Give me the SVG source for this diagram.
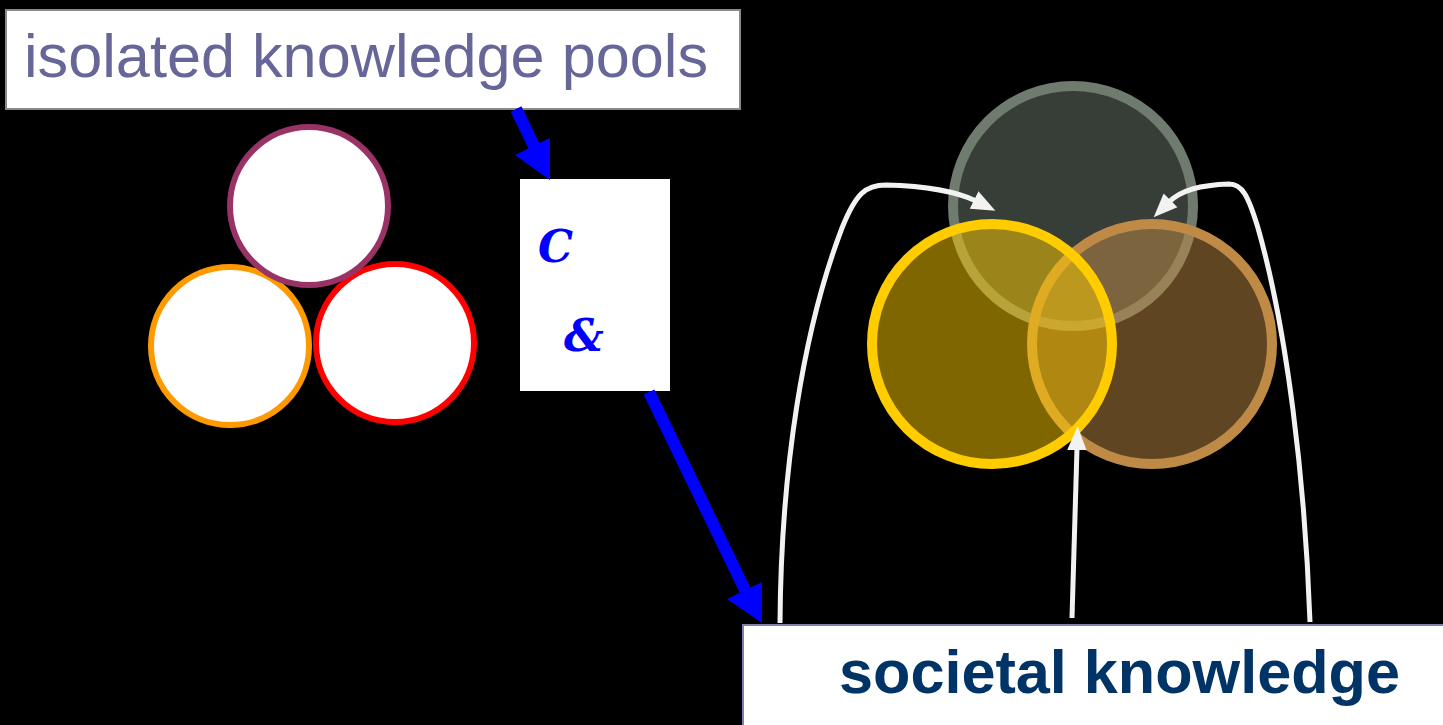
<svg xmlns="http://www.w3.org/2000/svg" width="1443" height="725" viewBox="0 0 1443 725">
<defs>
<style>
.box{fill:#ffffff}
.pool{fill:#ffffff;stroke-width:6}
.venn{stroke-width:10}
.wline{fill:none;stroke:#f2f2f2;stroke-width:5}
.blue{fill:#0000ff}
.ital{font-family:"DejaVu Serif","Liberation Serif",serif;font-style:italic;font-weight:bold;font-size:44px;fill:#0000ff}
</style>
<marker id="wh" markerUnits="userSpaceOnUse" markerWidth="26" markerHeight="20" refX="2" refY="9" orient="auto" viewBox="0 0 24 18">
<path d="M0,0 L22,9 L0,18 z" fill="#f2f2f2"/>
</marker>
</defs>
<rect x="0" y="0" width="1443" height="725" fill="#000000"/>

<g id="node-isolated">
<rect class="box" x="6" y="10" width="734" height="99" stroke="#8a8a8a" stroke-width="2"/>
<text x="24" y="77" font-family="Liberation Sans, Arial, sans-serif" font-size="62" fill="#666699" textLength="684" lengthAdjust="spacingAndGlyphs">isolated knowledge pools</text>
</g>

<g id="node-pools">
<circle class="pool" cx="230" cy="346" r="79" stroke="#ff9900"/>
<circle class="pool" cx="395" cy="343" r="79" stroke="#ff0000"/>
<circle class="pool" cx="309" cy="206" r="79" stroke="#993366"/>
</g>

<g id="node-process">
<rect class="box" x="520" y="179" width="150" height="212"/>
<text class="ital" x="538" y="262">C</text>
<text class="ital" x="564" y="351">&amp;</text>
</g>

<g id="node-venn">
<circle class="venn" cx="1073" cy="206" r="120" fill="#6e7b6e" fill-opacity="0.5" stroke="#6e7b6e"/>
<circle class="venn" cx="1152" cy="344" r="120" fill="#bf8a45" fill-opacity="0.5" stroke="#bf8a45"/>
<circle class="venn" cx="992" cy="344" r="120" fill="#ffcc00" fill-opacity="0.5" stroke="#ffcc00"/>
</g>

<g id="node-societal">
<rect class="box" x="743" y="625" width="710" height="110" stroke="#7f7fb0" stroke-width="2"/>
<text x="839" y="693" font-family="Liberation Sans, Arial, sans-serif" font-size="61" font-weight="bold" fill="#003366" textLength="561" lengthAdjust="spacingAndGlyphs">societal knowledge</text>
</g>

<g id="connectors">
<line x1="516" y1="109" x2="536" y2="150" stroke="#0000ff" stroke-width="12"/>
<polygon class="blue" points="515,155 550,138 550,180"/>
<line x1="649" y1="392" x2="746" y2="592" stroke="#0000ff" stroke-width="12"/>
<polygon class="blue" points="727,599 762,582 762,623"/>
<path class="wline" d="M780,623 C781,470 803,330 842,228 C856,193 866,185 886,185 C925,186 958,192 976,201" marker-end="url(#wh)"/>
<path class="wline" d="M1310,622 C1305,480 1287,330 1258,228 C1248,195 1242,184 1229,184 C1200,185 1181,190 1169,202" marker-end="url(#wh)"/>
<path class="wline" d="M1072,618 L1077,448" marker-end="url(#wh)"/>
</g>
</svg>
